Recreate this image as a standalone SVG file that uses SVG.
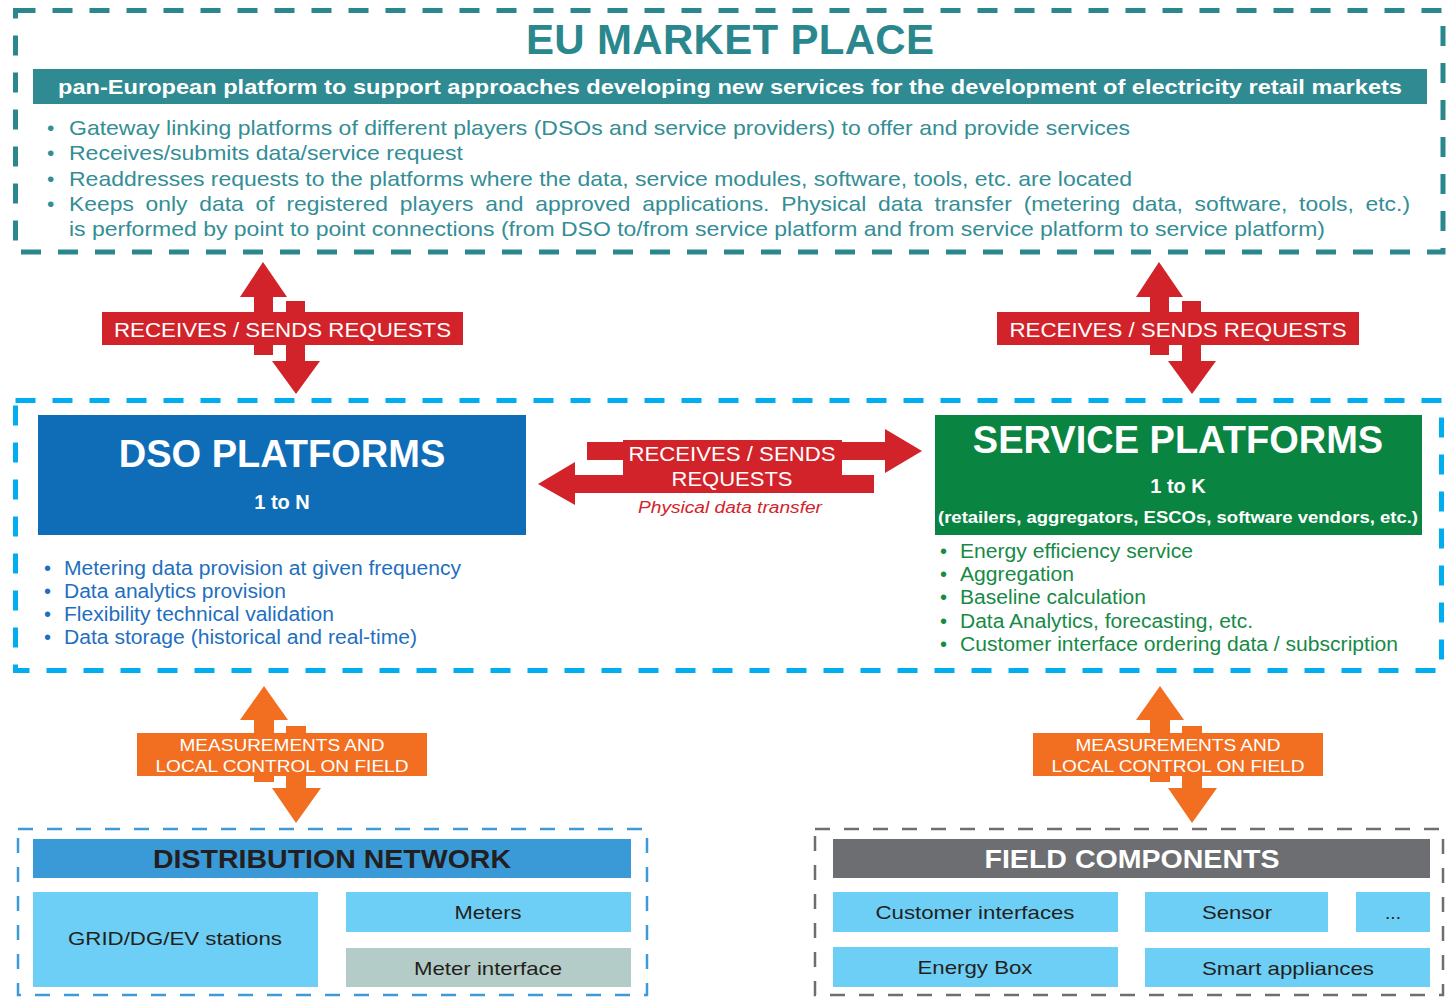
<svg xmlns="http://www.w3.org/2000/svg" width="1451" height="998" viewBox="0 0 1451 998">
<style>
text{font-family:"Liberation Sans",Arial,sans-serif}
.b{font-weight:bold}
.dteal{fill:none;stroke:#2b878e;stroke-width:5;stroke-dasharray:20 17}
.dblue{fill:none;stroke:#00aeef;stroke-width:5;stroke-dasharray:20 17}
.dbl2{fill:none;stroke:#3d9ad6;stroke-width:2.5;stroke-dasharray:15 14}
.dgry{fill:none;stroke:#6d6e71;stroke-width:2.5;stroke-dasharray:15 14}
.teal{fill:#2f8a91}
.red{fill:#d2232a}
.org{fill:#f26f22}
.wt{fill:#ffffff}
.tt{fill:#338e95;font-size:21px}
.bt{fill:#1f6fc0;font-size:20px}
.gt{fill:#178a46;font-size:20px}
.lb{fill:#6dcff6}
.dk{fill:#231f20;font-size:19px}
</style>

<g id="eu-market-place">
<rect class="dteal" x="15.5" y="10.5" width="1427.5" height="241.5"/>
<text x="730" y="54" class="b" font-size="42" fill="#2b878e" text-anchor="middle" textLength="408">EU MARKET PLACE</text>
<rect class="teal" x="33" y="69" width="1394" height="35"/>
<text x="730" y="94" class="b wt" font-size="20" text-anchor="middle" textLength="1344" lengthAdjust="spacingAndGlyphs">pan-European platform to support approaches developing new services for the development of electricity retail markets</text>
<g class="tt">
<text x="47" y="135">•</text><text x="69" y="135" textLength="1061" lengthAdjust="spacingAndGlyphs">Gateway linking platforms of different players (DSOs and service providers) to offer and provide services</text>
<text x="47" y="160">•</text><text x="69" y="160" textLength="394" lengthAdjust="spacingAndGlyphs">Receives/submits data/service request</text>
<text x="47" y="186">•</text><text x="69" y="186" textLength="1063" lengthAdjust="spacingAndGlyphs">Readdresses requests to the platforms where the data, service modules, software, tools, etc. are located</text>
<text x="47" y="211">•</text><text x="69" y="211" word-spacing="5" textLength="1341" lengthAdjust="spacingAndGlyphs">Keeps only data of registered players and approved applications. Physical data transfer (metering data, software, tools, etc.)</text>
<text x="69" y="236" textLength="1256" lengthAdjust="spacingAndGlyphs">is performed by point to point connections (from DSO to/from service platform and from service platform to service platform)</text>
</g>
</g>

<g id="platforms-area">
<rect class="dblue" x="15.5" y="400.5" width="1426" height="270"/>
</g>

<g id="dso-platforms">
<rect x="38" y="415" width="488" height="120" fill="#0f6db8"/>
<text x="282" y="467" class="b wt" font-size="38" text-anchor="middle">DSO PLATFORMS</text>
<text x="282" y="509" class="b wt" font-size="20" text-anchor="middle">1 to N</text>
<g class="bt">
<text x="44" y="575">•</text><text x="64" y="575" textLength="397" lengthAdjust="spacingAndGlyphs">Metering data provision at given frequency</text>
<text x="44" y="598">•</text><text x="64" y="598" textLength="222" lengthAdjust="spacingAndGlyphs">Data analytics provision</text>
<text x="44" y="621">•</text><text x="64" y="621" textLength="270" lengthAdjust="spacingAndGlyphs">Flexibility technical validation</text>
<text x="44" y="644">•</text><text x="64" y="644" textLength="353" lengthAdjust="spacingAndGlyphs">Data storage (historical and real-time)</text>
</g>
</g>

<g id="service-platforms">
<rect x="935" y="415" width="487" height="120" fill="#0a8441"/>
<text x="1178" y="453" class="b wt" font-size="38" text-anchor="middle">SERVICE PLATFORMS</text>
<text x="1178" y="493" class="b wt" font-size="20" text-anchor="middle">1 to K</text>
<text x="1178" y="523" class="b wt" font-size="16.5" text-anchor="middle" textLength="480" lengthAdjust="spacingAndGlyphs">(retailers, aggregators, ESCOs, software vendors, etc.)</text>
<g class="gt">
<text x="940" y="558">•</text><text x="960" y="558" textLength="233" lengthAdjust="spacingAndGlyphs">Energy efficiency service</text>
<text x="940" y="581">•</text><text x="960" y="581" textLength="114" lengthAdjust="spacingAndGlyphs">Aggregation</text>
<text x="940" y="604">•</text><text x="960" y="604" textLength="186" lengthAdjust="spacingAndGlyphs">Baseline calculation</text>
<text x="940" y="628">•</text><text x="960" y="628" textLength="293" lengthAdjust="spacingAndGlyphs">Data Analytics, forecasting, etc.</text>
<text x="940" y="651">•</text><text x="960" y="651" textLength="438" lengthAdjust="spacingAndGlyphs">Customer interface ordering data / subscription</text>
</g>
</g>

<g id="distribution-network">
<rect class="dbl2" x="18" y="829" width="629" height="166"/>
<rect x="33" y="839" width="598" height="39" fill="#3a9ad8"/>
<text x="332" y="868" class="b" font-size="25" fill="#231f20" text-anchor="middle" textLength="358" lengthAdjust="spacingAndGlyphs">DISTRIBUTION NETWORK</text>
<rect class="lb" x="33" y="892" width="285" height="95"/>
<text x="175" y="945" class="dk" text-anchor="middle" textLength="214" lengthAdjust="spacingAndGlyphs">GRID/DG/EV stations</text>
<rect class="lb" x="346" y="892" width="285" height="40"/>
<text x="488" y="919" class="dk" text-anchor="middle" textLength="67" lengthAdjust="spacingAndGlyphs">Meters</text>
<rect x="346" y="948" width="285" height="39" fill="#b3ccc7"/>
<text x="488" y="975" class="dk" text-anchor="middle" textLength="148" lengthAdjust="spacingAndGlyphs">Meter interface</text>
</g>

<g id="field-components">
<rect class="dgry" x="815" y="829" width="628" height="166"/>
<rect x="833" y="839" width="597" height="39" fill="#6d6e71"/>
<text x="1132" y="868" class="b wt" font-size="25" text-anchor="middle" textLength="295" lengthAdjust="spacingAndGlyphs">FIELD COMPONENTS</text>
<rect class="lb" x="833" y="892" width="285" height="40"/>
<text x="975" y="919" class="dk" text-anchor="middle" textLength="199" lengthAdjust="spacingAndGlyphs">Customer interfaces</text>
<rect class="lb" x="1145" y="892" width="183" height="40"/>
<text x="1237" y="919" class="dk" text-anchor="middle" textLength="70" lengthAdjust="spacingAndGlyphs">Sensor</text>
<rect class="lb" x="1356" y="892" width="74" height="40"/>
<text x="1393" y="919" class="dk" text-anchor="middle">...</text>
<rect class="lb" x="833" y="947" width="285" height="40"/>
<text x="975" y="974" class="dk" text-anchor="middle" textLength="115" lengthAdjust="spacingAndGlyphs">Energy Box</text>
<rect class="lb" x="1145" y="948" width="285" height="39"/>
<text x="1288" y="975" class="dk" text-anchor="middle" textLength="172" lengthAdjust="spacingAndGlyphs">Smart appliances</text>
</g>

<g id="connectors">
<g id="req-left">
<polygon class="red" points="263,262 287,297 273,297 273,355 254,355 254,297 240,297"/>
<polygon class="red" points="286,301 305,301 305,361 320,361 296,394 272,361 286,361"/>
<rect class="red" x="102" y="312" width="361" height="33"/>
<text x="282.5" y="337" class="wt" font-size="20" text-anchor="middle" textLength="337" lengthAdjust="spacingAndGlyphs">RECEIVES / SENDS REQUESTS</text>
</g>
<g id="req-right">
<polygon class="red" points="1159,262 1183,297 1169,297 1169,355 1150,355 1150,297 1136,297"/>
<polygon class="red" points="1182,301 1201,301 1201,361 1216,361 1192,394 1168,361 1182,361"/>
<rect class="red" x="997" y="312" width="362" height="33"/>
<text x="1178" y="337" class="wt" font-size="20" text-anchor="middle" textLength="337" lengthAdjust="spacingAndGlyphs">RECEIVES / SENDS REQUESTS</text>
</g>
<g id="req-middle">
<polygon class="red" points="587,442 885,442 885,429 922,451 885,473 885,460 587,460"/>
<polygon class="red" points="874,475 575,475 575,462 538,484 575,505 575,493 874,493"/>
<rect class="red" x="623" y="440" width="219" height="48"/>
<text x="732" y="461" class="wt" font-size="20" text-anchor="middle" textLength="207" lengthAdjust="spacingAndGlyphs">RECEIVES / SENDS</text>
<text x="732" y="486" class="wt" font-size="20" text-anchor="middle" textLength="121" lengthAdjust="spacingAndGlyphs">REQUESTS</text>
<text x="730" y="513" font-size="16" font-style="italic" fill="#d2232a" text-anchor="middle" textLength="184" lengthAdjust="spacingAndGlyphs">Physical data transfer</text>
</g>
<g id="field-left">
<polygon class="org" points="264,686 288,720 274,720 274,782 254,782 254,720 240,720"/>
<polygon class="org" points="286,726 306,726 306,788 321,788 296,823 272,788 286,788"/>
<rect class="org" x="137" y="733" width="290" height="43"/>
<text x="282" y="751" class="wt" font-size="17" text-anchor="middle" textLength="205" lengthAdjust="spacingAndGlyphs">MEASUREMENTS AND</text>
<text x="282" y="772" class="wt" font-size="17" text-anchor="middle" textLength="253" lengthAdjust="spacingAndGlyphs">LOCAL CONTROL ON FIELD</text>
</g>
<g id="field-right">
<polygon class="org" points="1160,686 1184,720 1170,720 1170,782 1150,782 1150,720 1136,720"/>
<polygon class="org" points="1182,726 1202,726 1202,788 1217,788 1192,823 1168,788 1182,788"/>
<rect class="org" x="1033" y="733" width="290" height="43"/>
<text x="1178" y="751" class="wt" font-size="17" text-anchor="middle" textLength="205" lengthAdjust="spacingAndGlyphs">MEASUREMENTS AND</text>
<text x="1178" y="772" class="wt" font-size="17" text-anchor="middle" textLength="253" lengthAdjust="spacingAndGlyphs">LOCAL CONTROL ON FIELD</text>
</g>
</g>
</svg>
